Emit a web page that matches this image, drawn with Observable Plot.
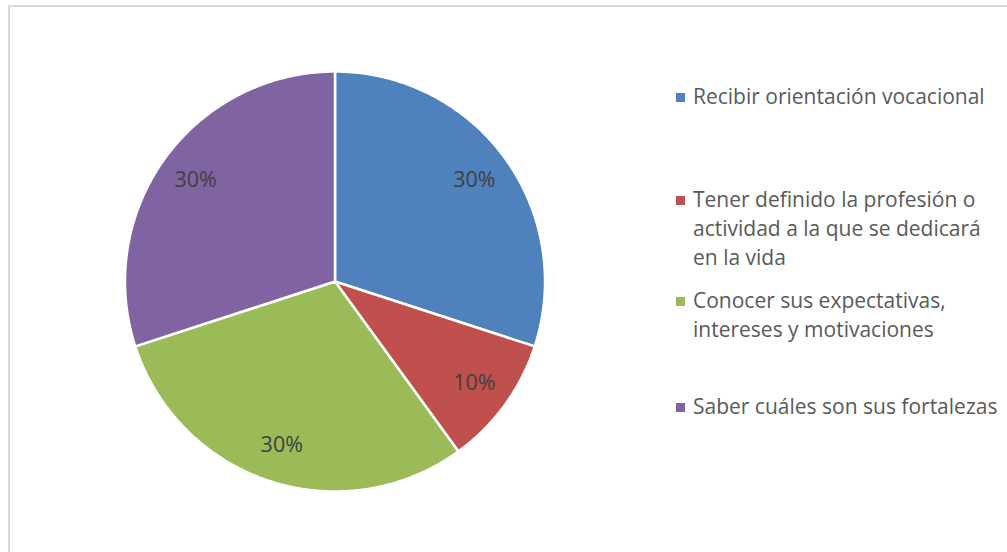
<!DOCTYPE html>
<html>
<head>
<meta charset="utf-8">
<script src="https://cdn.jsdelivr.net/npm/d3@7"></script>
<script src="https://cdn.jsdelivr.net/npm/@observablehq/plot@0.6"></script>
<style>
  html, body { margin: 0; padding: 0; background: #fff; }
  #wrap { position: relative; width: 1007px; height: 552px; overflow: hidden; font-family: "Open Sans", sans-serif; }
  #frame { position: absolute; left: 8px; top: 5px; width: 1200px; height: 800px; border-left: 2px solid #d9d9d9; border-top: 2px solid #d9d9d9; }
  #chart { position: absolute; left: 0; top: 0; }
  .leg { position: absolute; left: 676px; color: #595959; font-size: 21px; line-height: 29px; }
  .leg .sw { position: absolute; left: 0; width: 9px; height: 9px; }
  .leg .tx { margin-left: 17px; white-space: nowrap; }
</style>
</head>
<body>
<div id="wrap">
  <div id="frame"></div>
  <div id="chart"></div>
</div>
<script>
const categories = [
  "Recibir orientación vocacional",
  "Tener definido la profesión o actividad a la que se dedicará en la vida",
  "Conocer sus expectativas, intereses y motivaciones",
  "Saber cuáles son sus fortalezas"
];
const legendLines = [
  ["Recibir orientación vocacional"],
  ["Tener definido la profesión o", "actividad a la que se dedicará", "en la vida"],
  ["Conocer sus expectativas,", "intereses y motivaciones"],
  ["Saber cuáles son sus fortalezas"]
];
const values = [30, 10, 30, 30];
const labels = ["30%", "10%", "30%", "30%"];
const colors = ["#4f81bd", "#c0504d", "#9bbb59", "#8064a2"];
const legendTops = [82, 185, 286, 392];

const arcs = d3.pie().sort(null).value(d => d)(values);
const polyPts = [];
const labelPts = [];
arcs.forEach((a, i) => {
  const cat = categories[i];
  polyPts.push({cat, x: 0, y: 0});
  const n = Math.max(2, Math.ceil((a.endAngle - a.startAngle) / (Math.PI / 360)));
  for (let k = 0; k <= n; k++) {
    const t = a.startAngle + (a.endAngle - a.startAngle) * k / n;
    polyPts.push({cat, x: Math.sin(t), y: -Math.cos(t)});
  }
  polyPts.push({cat, x: 0, y: 0});
  const m = (a.startAngle + a.endAngle) / 2;
  labelPts.push({cat, label: labels[i], x: 0.82 * Math.sin(m), y: -0.82 * Math.cos(m)});
});

const chart = Plot.plot({
  width: 1007,
  height: 552,
  margin: 0,
  x: {domain: [-1, 1], range: [124.5, 544.5], axis: null},
  y: {domain: [-1, 1], range: [71, 491], axis: null},
  color: {domain: categories, range: colors},
  marks: [
    Plot.line(polyPts, {x: "x", y: "y", z: "cat", fill: "cat", stroke: "#fff", strokeWidth: 2.5, strokeLinejoin: "round"}),
    Plot.text(labelPts, {x: "x", y: "y", text: "label", fill: "#404040", fontSize: 21.5, fontFamily: "'Open Sans', sans-serif"})
  ]
});
document.getElementById("chart").appendChild(chart);

const wrap = document.getElementById("wrap");
legendLines.forEach((lines, i) => {
  const d = document.createElement("div");
  d.className = "leg";
  d.style.top = legendTops[i] + "px";
  const sw = document.createElement("div");
  sw.className = "sw";
  sw.style.background = colors[i];
  sw.style.top = "11px";
  d.appendChild(sw);
  const tx = document.createElement("div");
  tx.className = "tx";
  tx.innerHTML = lines.join("<br>");
  d.appendChild(tx);
  wrap.appendChild(d);
});
</script>
</body>
</html>
